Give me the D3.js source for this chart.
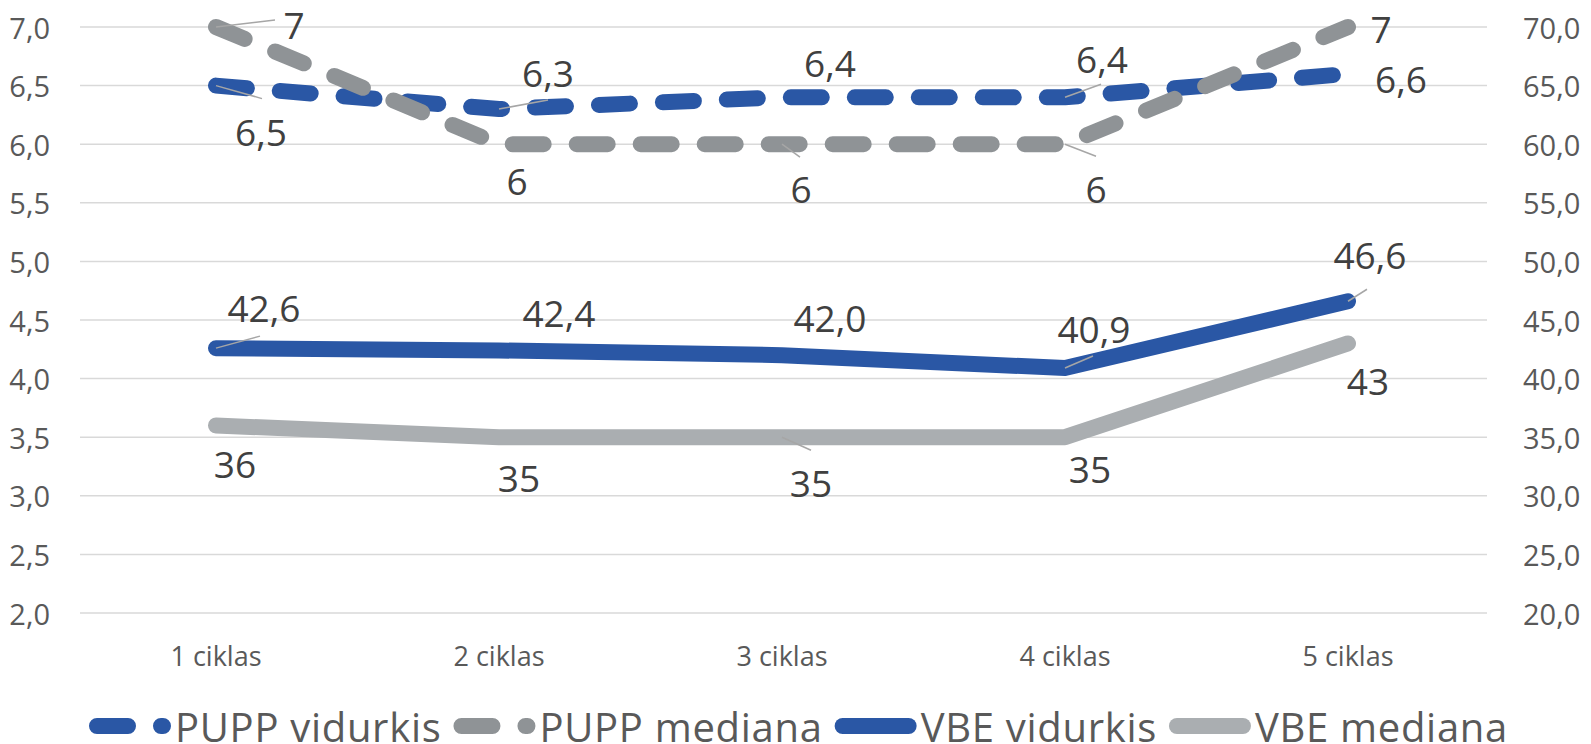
<!DOCTYPE html>
<html>
<head>
<meta charset="utf-8">
<script src="https://d3js.org/d3.v7.min.js"></script>
<style>
  body { margin: 0; background: #fff; }
  text { font-family: "Open Sans", sans-serif; }
</style>
</head>
<body>
<svg id="chart" width="1591" height="744"></svg>
<script>

// data
const categories = ['1 ciklas', '2 ciklas', '3 ciklas', '4 ciklas', '5 ciklas']
const puppVidurkis = [6.5, 6.3, 6.4, 6.4, 6.6]
const puppMediana = [7, 6, 6, 6, 7]
const vbeVidurkis = [42.6, 42.4, 42.0, 40.9, 46.6]
const vbeMediana = [36, 35, 35, 35, 43]
const leftTicks = d3.range(2, 7.01, 0.5)
const rightTicks = d3.range(20, 70.01, 5)

const fmt1 = v => d3.format('.1f')(v).replace('.', ',')
const fmt0 = v => String(v).replace('.', ',')

// layout
const width = 1591, height = 744
const plot = { left: 80, right: 1487, top: 27, bottom: 613 }

const svg = d3.select('#chart')

const x = d3.scalePoint().domain(categories).range([216, 1348])
const yL = d3.scaleLinear().domain([2, 7]).range([plot.bottom, plot.top])
const yR = d3.scaleLinear().domain([20, 70]).range([plot.bottom, plot.top])

// gridlines
svg.append('g')
  .selectAll('line')
  .data(leftTicks)
  .join('line')
    .attr('x1', plot.left).attr('x2', plot.right)
    .attr('y1', d => yL(d)).attr('y2', d => yL(d))
    .attr('stroke', '#d9d9d9').attr('stroke-width', 1.5)

// left axis labels
svg.append('g')
  .selectAll('text')
  .data(leftTicks)
  .join('text')
    .attr('x', 50).attr('y', d => yL(d))
    .attr('text-anchor', 'end').attr('dominant-baseline', 'central')
    .attr('font-size', 29).attr('fill', '#595959')
    .text(fmt1)

// right axis labels
svg.append('g')
  .selectAll('text')
  .data(rightTicks)
  .join('text')
    .attr('x', 1523).attr('y', d => yR(d))
    .attr('text-anchor', 'start').attr('dominant-baseline', 'central')
    .attr('font-size', 29).attr('fill', '#595959')
    .text(fmt1)

// category labels
svg.append('g')
  .selectAll('text')
  .data(categories)
  .join('text')
    .attr('x', d => x(d)).attr('y', 655)
    .attr('text-anchor', 'middle').attr('dominant-baseline', 'central')
    .attr('font-size', 27).attr('fill', '#595959')
    .text(d => d)

// label nudges (px from the point) and leader line ends
const series = [
  { name: 'PUPP vidurkis', values: puppVidurkis, y: yL, color: '#2a57a5', dash: '31,33', fmt: fmt1,
    nudge: [[45, 46], [49, -37], [48, -35], [37, -39], [53, 5]],
    leader: [[46, 13], [49, -9], null, [36, -13], null] },
  { name: 'PUPP mediana', values: puppMediana, y: yL, color: '#8f9396', dash: '31,33', fmt: fmt0,
    nudge: [[78, -3], [18, 36], [19, 44], [31, 44], [33, 1]],
    leader: [[59, -7], null, [18, 13], [31, 12], null] },
  { name: 'VBE vidurkis', values: vbeVidurkis, y: yR, color: '#2a57a5', dash: null, fmt: fmt1,
    nudge: [[48, -41], [60, -38], [48, -38], [29, -40], [22, -47]],
    leader: [[44, -12], null, null, [28, -12], [19, -12]] },
  { name: 'VBE mediana', values: vbeMediana, y: yR, color: '#aaaeb1', dash: null, fmt: fmt0,
    nudge: [[19, 38], [20, 40], [29, 45], [25, 31], [20, 37]],
    leader: [null, null, [29, 13], null, null] }
]

const line = d3.line()

series.forEach(s => {
  const pts = s.values.map((v, i) => [x(categories[i]), s.y(v)])
  svg.append('path')
    .attr('d', line(pts))
    .attr('fill', 'none')
    .attr('stroke', s.color)
    .attr('stroke-width', 16)
    .attr('stroke-linecap', 'round')
    .attr('stroke-linejoin', 'round')
    .attr('stroke-dasharray', s.dash)
  s.pts = pts
})

series.forEach(s => {
  const g = svg.append('g')
  s.pts.forEach((p, i) => {
    const l = s.leader[i]
    if (l) {
      g.append('line')
        .attr('x1', p[0]).attr('y1', p[1])
        .attr('x2', p[0] + l[0]).attr('y2', p[1] + l[1])
        .attr('stroke', '#a6a6a6').attr('stroke-width', 1.5)
    }
    g.append('text')
      .attr('x', p[0] + s.nudge[i][0]).attr('y', p[1] + s.nudge[i][1])
      .attr('text-anchor', 'middle').attr('dominant-baseline', 'central')
      .attr('font-size', 37).attr('fill', '#404040')
      .text(s.fmt(s.values[i]))
  })
})

// legend
let lx = 89
const ly = 726
series.forEach(s => {
  svg.append('line')
    .attr('x1', lx + 8).attr('x2', lx + 74)
    .attr('y1', ly).attr('y2', ly)
    .attr('stroke', s.color).attr('stroke-width', 16)
    .attr('stroke-linecap', 'round')
    .attr('stroke-dasharray', s.dash)
  const t = svg.append('text')
    .attr('x', lx + 86).attr('y', ly)
    .attr('dominant-baseline', 'central')
    .attr('font-size', 40).attr('letter-spacing', 0.7).attr('fill', '#595959')
    .text(s.name)
  lx += 86 + t.node().getComputedTextLength() + 12
})

</script>
</body>
</html>
